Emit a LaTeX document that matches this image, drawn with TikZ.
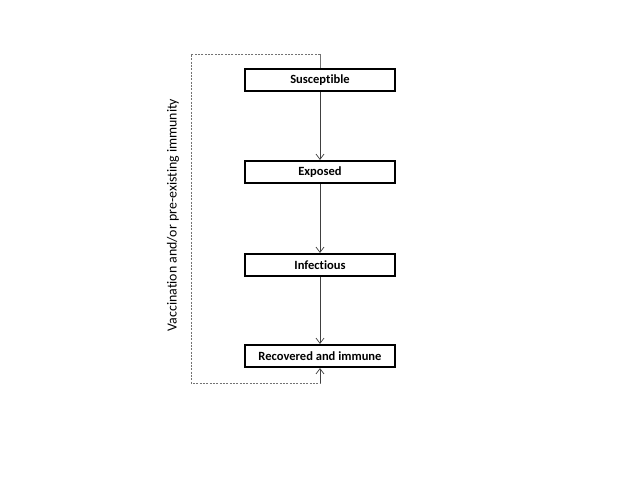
\documentclass[tikz,border=0pt]{standalone}
\usepackage{fontspec}
\setmainfont{Carlito}[Ligatures=CommonOff]
\usetikzlibrary{arrows.meta}
\begin{document}
\begin{tikzpicture}[x=0.75pt,y=-0.75pt,
  stage/.style={draw=black,line width=1.6pt,minimum width=150*0.75pt,minimum height=22*0.75pt,inner sep=0pt,font=\fontsize{9.4}{11}\selectfont\bfseries},
  flow/.style={draw=black!75,line width=0.5pt,-{Straight Barb[length=4pt,width=6pt]}},
  loop/.style={draw=black!55,dashed,dash pattern=on 1.5pt off 1pt,line width=0.5pt}]
\useasboundingbox (0,0) rectangle (640,480);
\node[stage] (s) at (320,80) {Susceptible};
\node[stage] (e) at (320,172) {Exposed};
\node[stage] (i) at (320,265) {Infectious};
\node[stage] (r) at (320,356) {Recovered and immune};
\coordinate (c1) at (320,54);
\coordinate (c2) at (191,54);
\coordinate (c3) at (191,383);
\coordinate (c4) at (320,383);
\draw[flow] (s) -- (e);
\draw[flow] (e) -- (i);
\draw[flow] (i) -- (r);
\draw[draw=black!55,line width=0.5pt] (s.north) -- (c1);
\draw[loop] (c1) -- (c2) -- (c3) -- (c4);
\draw[flow] (c4) -- (r.south);
\node[rotate=90,font=\fontsize{10.4}{12}\selectfont] (lab) at (173,215) {Vaccination and/or pre-existing immunity};
\end{tikzpicture}
\end{document}
